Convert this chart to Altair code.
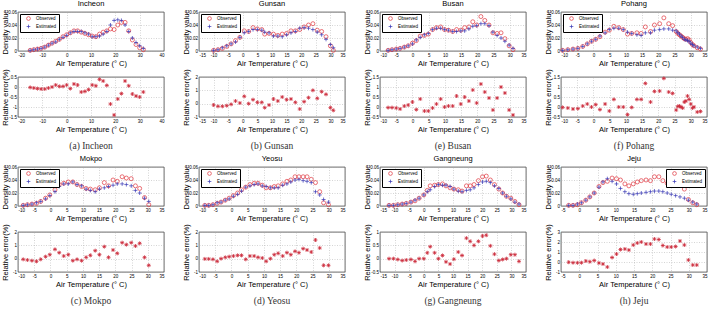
import altair as alt
import pandas as pd

FONT = "Liberation Sans"
SERIF = "Liberation Serif"
RED = "#e0353d"
BLUE = "#3535b5"
ERR_RED = "#cc2a3a"
PLUS = "M-1,0H1M0,-1V1"
STAR = "M-1,0H1M0,-1V1M-0.7,-0.7L0.7,0.7M-0.7,0.7L0.7,-0.7"
W, H1, H2 = 146, 39, 40

# ---------------- data ----------------
incheon_t = [-15, -13.5, -12, -10.5, -9, -7.5, -6, -4.5, -3, -1.5, 0, 1.5, 3, 4.5, 6, 7.5, 9, 10.5, 12, 13.5,
             15, 16.5, 18, 19.5, 21, 22.5, 24, 25.5, 27, 28.5, 30, 31.5]
incheon_obs = [0.001, 0.002, 0.003, 0.004, 0.006, 0.009, 0.012, 0.015, 0.018, 0.022, 0.025, 0.028, 0.031, 0.031,
               0.029, 0.027, 0.025, 0.023, 0.022, 0.026, 0.029, 0.031, 0.034, 0.033, 0.040, 0.044, 0.044, 0.031,
               0.017, 0.010, 0.005, 0.002]
incheon_est = [0.001, 0.002, 0.003, 0.004, 0.006, 0.009, 0.012, 0.014, 0.018, 0.021, 0.024, 0.028, 0.030, 0.030,
               0.030, 0.028, 0.026, 0.022, 0.022, 0.023, 0.026, 0.030, 0.040, 0.047, 0.048, 0.047, 0.040, 0.030,
               0.020, 0.013, 0.008, 0.004]
incheon_err = [-0.02, -0.05, -0.08, -0.1, -0.1, -0.05, 0.0, 0.1, 0.03, 0.03, 0.1, -0.08, 0.15, 0.1, -0.25, -0.22,
               -0.13, 0.1, 0.06, 0.38, 0.3, 0.08, -0.85, -1.4, -0.6, -0.33, 0.3, 0.06, -0.35, -0.45, -0.5, -0.25]

gunsan_t = [-10, -8.5, -7, -5.5, -4, -2.5, -1, 0.5, 2, 3.5, 5, 6.5, 7.5, 9, 10.5, 12, 13.5, 15, 16.5, 18,
            19.5, 21, 22.5, 24, 25.5, 27, 28.5, 30, 31]
gunsan_obs = [0.001, 0.002, 0.004, 0.007, 0.011, 0.016, 0.021, 0.031, 0.030, 0.036, 0.034, 0.033, 0.026, 0.027,
              0.026, 0.024, 0.026, 0.027, 0.031, 0.031, 0.033, 0.037, 0.040, 0.042, 0.032, 0.030, 0.022, 0.008,
              0.001]
gunsan_est = [0.001, 0.002, 0.005, 0.008, 0.011, 0.014, 0.021, 0.028, 0.030, 0.033, 0.033, 0.032, 0.029, 0.028,
              0.023, 0.023, 0.022, 0.025, 0.028, 0.030, 0.035, 0.036, 0.035, 0.033, 0.029, 0.025, 0.018, 0.010,
              0.005]
gunsan_err = [-0.1, -0.2, -0.2, -0.15, -0.05, 0.2, 0.05, 0.55, 0.0, 0.3, 0.1, 0.1, -0.3, -0.1, 0.35, 0.2, 0.5,
              0.3, 0.35, 0.1, -0.4, 0.15, 0.45, 1.0, 0.4, 0.9, 0.7, -0.3, -0.5]

busan_t = [-7.5, -6.3, -5.0, -3.8, -2.5, -1.3, 0.0, 1.2, 2.4, 3.7, 4.9, 6.2, 7.4, 8.7, 9.9, 11.1, 12.4, 13.6,
           14.9, 16.1, 17.4, 18.6, 19.8, 21.1, 22.3, 23.6, 24.8, 26.1, 27.3, 28.5, 29.8, 31.0]
busan_obs = [0.001, 0.002, 0.003, 0.004, 0.006, 0.008, 0.012, 0.016, 0.023, 0.024, 0.026, 0.033, 0.036, 0.037,
             0.033, 0.032, 0.030, 0.033, 0.032, 0.036, 0.037, 0.045, 0.040, 0.053, 0.047, 0.040, 0.028, 0.027,
             0.028, 0.019, 0.008, 0.002]
busan_est = [0.001, 0.002, 0.003, 0.004, 0.006, 0.008, 0.011, 0.017, 0.021, 0.025, 0.027, 0.033, 0.035, 0.035,
             0.033, 0.032, 0.030, 0.030, 0.031, 0.031, 0.034, 0.038, 0.039, 0.042, 0.042, 0.039, 0.029, 0.024,
             0.020, 0.015, 0.009, 0.004]
busan_err = [-0.03, -0.03, -0.05, -0.1, 0.05, 0.1, 0.25, -0.13, 0.4, -0.2, -0.2, -0.05, 0.15, 0.4, 0.0, 0.05,
             0.05, 0.55, 0.15, 0.5, 0.3, 0.85, 0.2, 1.15, 0.75, 0.45, -0.15, 0.45, 1.0, 0.7, -0.15, -0.4]

pohang_t = [-9.5, -7.9, -6.3, -4.8, -3.3, -1.9, -0.6, 0.7, 2.0, 3.6, 4.9, 6.3, 7.8, 9.2, 10.5, 11.8, 13.4, 14.7,
            16.0, 17.6, 18.8, 20.4, 21.7, 23.2, 24.4, 25.5, 26, 26.5, 27, 27.5, 28, 28.5, 29, 29.5, 30, 30.5, 31,
            32, 33]
pohang_obs = [0.001, 0.002, 0.003, 0.004, 0.007, 0.011, 0.015, 0.018, 0.022, 0.029, 0.032, 0.038, 0.036, 0.033,
              0.026, 0.027, 0.028, 0.027, 0.037, 0.030, 0.040, 0.042, 0.051, 0.042, 0.039, 0.030, 0.027, 0.025,
              0.023, 0.021, 0.019, 0.018, 0.019, 0.017, 0.013, 0.010, 0.008, 0.005, 0.003]
pohang_est = [0.001, 0.002, 0.003, 0.004, 0.007, 0.011, 0.015, 0.018, 0.023, 0.028, 0.033, 0.035, 0.035, 0.033,
              0.029, 0.027, 0.025, 0.024, 0.028, 0.028, 0.032, 0.033, 0.034, 0.034, 0.032, 0.031, 0.028, 0.026,
              0.023, 0.021, 0.018, 0.017, 0.016, 0.015, 0.012, 0.010, 0.008, 0.006, 0.004]
pohang_err = [-0.02, -0.05, -0.1, -0.08, 0.05, 0.15, 0.0, 0.12, -0.13, 0.15, -0.2, 0.38, 0.0, 0.0, -0.38, -0.02,
              0.38, 0.38, 1.18, 0.25, 0.78, 0.8, 1.43, 0.75, 0.68, -0.15, 0.03, 0.05, 0.0, -0.05, 0.25, 0.3, 0.55,
              0.38, 0.15, -0.05, 0.0, -0.25, -0.22]

mokpo_t = [-8.4, -7.1, -5.7, -4.3, -3.0, -1.5, -0.2, 1.4, 2.7, 4.1, 5.5, 6.9, 8.2, 9.6, 11.0, 12.3, 13.8, 15.1,
           16.6, 17.9, 19.3, 20.6, 22.1, 23.4, 24.9, 26.2, 27.5, 29.0, 30.3]
mokpo_obs = [0.001, 0.002, 0.003, 0.004, 0.007, 0.012, 0.017, 0.025, 0.033, 0.035, 0.037, 0.037, 0.033, 0.030,
             0.027, 0.026, 0.025, 0.028, 0.036, 0.031, 0.040, 0.038, 0.045, 0.043, 0.042, 0.031, 0.027, 0.013,
             0.002]
mokpo_est = [0.001, 0.002, 0.003, 0.005, 0.007, 0.011, 0.016, 0.022, 0.030, 0.034, 0.034, 0.037, 0.033, 0.031,
             0.026, 0.024, 0.022, 0.026, 0.028, 0.030, 0.032, 0.034, 0.034, 0.033, 0.031, 0.024, 0.020, 0.012,
             0.007]
mokpo_err = [-0.05, -0.1, -0.15, -0.2, -0.05, 0.15, 0.3, 0.7, 0.45, 0.2, 0.3, -0.15, -0.05, -0.15, 0.1, 0.25,
             0.6, 0.3, 0.9, 0.1, 0.65, 0.4, 1.2, 1.05, 1.2, 0.95, 1.15, 0.1, -0.5]

yeosu_t = [-8.2, -7.0, -5.7, -4.4, -3.2, -1.9, -0.7, 0.6, 1.9, 3.1, 4.4, 5.7, 7.0, 8.2, 9.5, 10.7, 12.0, 13.2,
           14.4, 15.8, 17.1, 18.3, 19.6, 20.8, 22.1, 23.3, 24.6, 25.9, 27.2, 28.4, 29.9]
yeosu_obs = [0.001, 0.001, 0.002, 0.004, 0.006, 0.009, 0.012, 0.016, 0.020, 0.025, 0.029, 0.033, 0.035, 0.035,
             0.032, 0.028, 0.028, 0.030, 0.031, 0.034, 0.038, 0.040, 0.045, 0.045, 0.045, 0.045, 0.041, 0.036,
             0.022, 0.005, 0.002]
yeosu_est = [0.001, 0.001, 0.002, 0.005, 0.006, 0.009, 0.011, 0.015, 0.018, 0.023, 0.029, 0.031, 0.033, 0.034,
             0.031, 0.030, 0.028, 0.028, 0.028, 0.032, 0.034, 0.037, 0.040, 0.041, 0.039, 0.038, 0.036, 0.022,
             0.017, 0.010, 0.006]
yeosu_err = [-0.02, -0.02, -0.05, -0.2, 0.0, 0.1, 0.15, 0.2, 0.25, 0.25, -0.05, 0.2, 0.2, 0.1, 0.05, -0.2, 0.0,
             0.3, 0.4, 0.2, 0.45, 0.3, 0.55, 0.45, 0.75, 0.65, 0.5, 1.4, 0.8, -0.5, -0.5]

gangneung_t = [-11.9, -10.4, -8.9, -7.4, -6.0, -4.4, -3.0, -1.6, 0.0, 1.2, 2.2, 3.7, 5.0, 6.4, 7.6, 9.0, 10.3,
               11.8, 13.1, 14.6, 15.9, 17.2, 18.7, 20.1, 21.4, 22.8, 24.2, 25.7, 27.0, 28.3, 29.8, 31.2, 32.6]
gangneung_obs = [0.001, 0.001, 0.002, 0.003, 0.004, 0.006, 0.008, 0.012, 0.017, 0.024, 0.031, 0.032, 0.033,
                 0.034, 0.031, 0.028, 0.026, 0.025, 0.023, 0.031, 0.031, 0.033, 0.039, 0.045, 0.046, 0.040, 0.033,
                 0.026, 0.020, 0.015, 0.012, 0.007, 0.002]
gangneung_est = [0.001, 0.001, 0.002, 0.003, 0.004, 0.006, 0.009, 0.012, 0.017, 0.022, 0.025, 0.030, 0.033,
                 0.032, 0.032, 0.030, 0.026, 0.023, 0.022, 0.024, 0.025, 0.028, 0.033, 0.037, 0.038, 0.036, 0.031,
                 0.027, 0.020, 0.015, 0.011, 0.006, 0.003]
gangneung_err = [0.0, 0.0, -0.03, -0.07, -0.05, -0.03, -0.1, 0.0, 0.0, 0.22, 0.45, 0.22, 0.0, 0.12, -0.12, -0.2,
                 -0.02, 0.25, 0.12, 0.77, 0.65, 0.5, 0.65, 0.85, 0.88, 0.48, 0.17, -0.07, -0.03, 0.0, 0.15, 0.15,
                 -0.1]

jeju_t = [-2.9, -1.7, -0.5, 0.6, 1.8, 2.9, 4.1, 5.4, 6.5, 7.7, 9.0, 10.2, 11.3, 12.5, 13.6, 14.8, 15.9, 17.0,
          18.3, 19.5, 20.6, 21.8, 22.9, 24.1, 25.2, 26.4, 27.6, 28.8, 29.9, 31.1, 32.2]
jeju_obs = [0.001, 0.001, 0.002, 0.005, 0.009, 0.014, 0.020, 0.030, 0.036, 0.038, 0.043, 0.042, 0.040, 0.034,
            0.031, 0.034, 0.037, 0.039, 0.040, 0.039, 0.045, 0.045, 0.039, 0.035, 0.034, 0.032, 0.032, 0.026,
            0.010, 0.005, 0.002]
jeju_est = [0.001, 0.001, 0.003, 0.005, 0.009, 0.014, 0.020, 0.029, 0.037, 0.042, 0.038, 0.034, 0.027, 0.022,
            0.019, 0.018, 0.019, 0.020, 0.021, 0.022, 0.023, 0.023, 0.022, 0.020, 0.018, 0.016, 0.014, 0.012,
            0.009, 0.006, 0.003]
jeju_err = [-0.02, -0.07, -0.08, -0.07, 0.1, 0.03, 0.15, -0.1, -0.2, -0.5, 0.45, 0.8, 1.25, 1.3, 1.2, 1.7, 1.9,
            2.0, 1.8, 1.8, 2.3, 2.25, 1.65, 1.5, 1.5, 1.55, 2.1, 1.7, 0.2, -0.3, -0.3]

# axis ranges per station: (x domain, x ticks, error domain, error ticks)
incheon_axes = ([-20, 40], [-20, -10, 0, 10, 20, 30, 40], [-1.5, 0.5], [-1.5, -1, -0.5, 0, 0.5])
gunsan_axes = ([-15, 35], list(range(-15, 36, 5)), [-1, 2], [-1, 0, 1, 2])
busan_axes = ([-10, 35], list(range(-10, 36, 5)), [-0.5, 1.5], [-0.5, 0, 0.5, 1, 1.5])
pohang_axes = ([-10, 35], list(range(-10, 36, 5)), [-0.5, 1.5], [-0.5, 0, 0.5, 1, 1.5])
mokpo_axes = ([-10, 35], list(range(-10, 36, 5)), [-1, 2], [-1, 0, 1, 2])
yeosu_axes = ([-10, 35], list(range(-10, 36, 5)), [-1, 2], [-1, 0, 1, 2])
gangneung_axes = ([-15, 35], list(range(-15, 36, 5)), [-0.5, 1], [-0.5, 0, 0.5, 1])
jeju_axes = ([-5, 35], list(range(-5, 36, 5)), [-1, 3], [-1, 0, 1, 2, 3])

XTITLE = "Air Temperature (° C)"
SERIES = ["Observed", "Estimated"]


def legend(orient):
    return alt.Legend(title=None, orient=orient, offset=2, padding=2, strokeColor="black",
                      fillColor="white", labelFontSize=4.5, labelFont=FONT, symbolSize=14,
                      symbolStrokeWidth=0.7, rowPadding=1, labelOffset=5, symbolOffset=4,
                      cornerRadius=0, labelExpr="datum.label + '          '")


def density(name, t, obs, est, axes, orient):
    xdom, xticks, _, _ = axes
    df = pd.DataFrame({"t": t + t, "v": obs + est,
                       "s": ["Observed"] * len(t) + ["Estimated"] * len(t)})
    return alt.Chart(df, title=alt.TitleParams(name, fontSize=7.5, font=FONT, fontWeight=400, color="black",
                                                offset=1, frame="group", anchor="middle")).mark_point(
        filled=False, size=16, strokeWidth=0.7, opacity=1
    ).encode(
        x=alt.X("t:Q", scale=alt.Scale(domain=xdom, nice=False, zero=False),
                axis=alt.Axis(values=xticks, title=XTITLE, labelExpr="'' + datum.value")),
        y=alt.Y("v:Q", scale=alt.Scale(domain=[0, 0.06], nice=False),
                axis=alt.Axis(values=[0, 0.02, 0.04, 0.06], title="Density value",
                              labelExpr="'' + datum.value")),
        color=alt.Color("s:N", scale=alt.Scale(domain=SERIES, range=[RED, BLUE]), legend=legend(orient)),
        shape=alt.Shape("s:N", scale=alt.Scale(domain=SERIES, range=["circle", PLUS]), legend=legend(orient)),
        order=alt.Order("o:Q"),
    ).transform_calculate(o="datum.s == 'Observed' ? 0 : 1").properties(width=W, height=H1)


def error(caption, t, err, axes):
    xdom, xticks, edom, eticks = axes
    df = pd.DataFrame({"t": t, "e": err})
    return alt.Chart(df, title=alt.TitleParams(caption, orient="bottom", fontSize=9.5, font=SERIF,
                                                fontWeight=400, offset=8, color="#333333",
                                                frame="group", anchor="middle")).mark_point(
        shape=STAR, filled=False, size=16, strokeWidth=0.8, color=ERR_RED, opacity=1
    ).encode(
        x=alt.X("t:Q", scale=alt.Scale(domain=xdom, nice=False, zero=False),
                axis=alt.Axis(values=xticks, title=XTITLE, labelExpr="'' + datum.value")),
        y=alt.Y("e:Q", scale=alt.Scale(domain=edom, nice=False, zero=False),
                axis=alt.Axis(values=eticks, title="Relative error(%)", labelExpr="'' + datum.value")),
    ).properties(width=W, height=H2)


def indep(c):
    return c.resolve_scale(color="independent", shape="independent").resolve_legend(
        color="independent", shape="independent")


def panel(name, caption, t, obs, est, err, axes, orient="top-left"):
    return indep(alt.vconcat(density(name, t, obs, est, axes, orient), error(caption, t, err, axes),
                             spacing=1))


row1 = indep(alt.hconcat(
    panel("Incheon", "(a) Incheon", incheon_t, incheon_obs, incheon_est, incheon_err, incheon_axes),
    panel("Gunsan", "(b) Gunsan", gunsan_t, gunsan_obs, gunsan_est, gunsan_err, gunsan_axes),
    panel("Busan", "(e) Busan", busan_t, busan_obs, busan_est, busan_err, busan_axes),
    panel("Pohang", "(f) Pohang", pohang_t, pohang_obs, pohang_est, pohang_err, pohang_axes),
    spacing=16))
row2 = indep(alt.hconcat(
    panel("Mokpo", "(c) Mokpo", mokpo_t, mokpo_obs, mokpo_est, mokpo_err, mokpo_axes),
    panel("Yeosu", "(d) Yeosu", yeosu_t, yeosu_obs, yeosu_est, yeosu_err, yeosu_axes),
    panel("Gangneung", "(g) Gangneung", gangneung_t, gangneung_obs, gangneung_est, gangneung_err,
          gangneung_axes),
    panel("Jeju", "(h) Jeju", jeju_t, jeju_obs, jeju_est, jeju_err, jeju_axes, orient="top-right"),
    spacing=16))

chart = indep(alt.vconcat(row1, row2, spacing=4)).properties(
    padding={"left": 0, "top": 0, "right": 0, "bottom": 0}, background="white"
).configure_view(stroke="black", strokeWidth=0.6).configure_axis(
    labelFont=FONT, labelFontSize=4.5, labelColor="black", titleFont=FONT, titleFontSize=7.5,
    titleFontWeight="normal", titleColor="black", ticks=False, domain=False, gridColor="#aaaaaa",
    gridDash=[1, 1.5], gridWidth=0.5, labelPadding=1.5, titlePadding=2
).configure_axisY(minExtent=9, maxExtent=9, titlePadding=0, titleFontSize=7.5)

chart.save("out.html", embed_options={"renderer": "svg", "actions": False})
